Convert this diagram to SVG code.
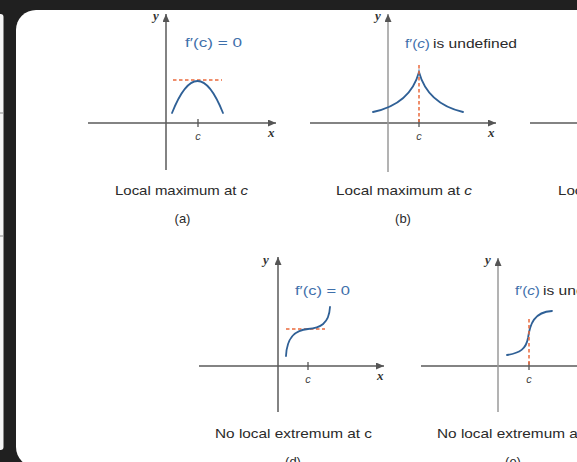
<svg xmlns="http://www.w3.org/2000/svg" width="577" height="462" viewBox="0 0 577 462">
<defs>
<marker id="arr" markerUnits="userSpaceOnUse" markerWidth="9" markerHeight="7" refX="8" refY="3.5" orient="auto">
<path d="M0,0 L8,3.5 L0,7 z" fill="#555"/>
</marker>
<style>
.ax{stroke:#5a5a5a;stroke-width:1.5;fill:none}
.axl{stroke:#9a9a9a;stroke-width:1.5;fill:none}
.tk{stroke:#555;stroke-width:1.3}
.cv{stroke:#2f6096;stroke-width:1.8;fill:none;stroke-linecap:round}
.ds{stroke:#ea6a3c;stroke-width:1.5;stroke-dasharray:3.5 2.5;fill:none}
.lab{font-family:"Liberation Serif",serif;font-style:italic;font-weight:bold;font-size:13px;fill:#333}
.cl{font-family:"Liberation Sans",sans-serif;font-style:italic;font-size:11px;fill:#444;text-anchor:middle}
.bl{font-family:"Liberation Sans",sans-serif;font-size:12.5px;fill:#3f70ab}
.bk{font-family:"Liberation Sans",sans-serif;font-size:12.5px;fill:#2a2a2a}
.cap{font-family:"Liberation Sans",sans-serif;font-size:13px;fill:#2a2a2a}
.sub{font-family:"Liberation Sans",sans-serif;font-size:13px;fill:#2a2a2a;text-anchor:middle}
</style>
</defs>
<rect x="0" y="0" width="577" height="462" fill="#202020"/>
<g id="left-neighbor">
<rect x="-60" y="14" width="63.5" height="436" rx="3" fill="#f4f4f4"/>
<line x1="0" y1="113" x2="3" y2="113" stroke="#888" stroke-width="1"/>
<line x1="0" y1="236" x2="3" y2="236" stroke="#888" stroke-width="1"/>
</g>
<rect id="panel" x="16" y="10" width="580" height="457" rx="20" fill="#ffffff"/>

<g id="plot-a">
<line class="ax" x1="88" y1="123" x2="276" y2="123" marker-end="url(#arr)"/>
<line class="ax" x1="166" y1="170" x2="166" y2="14" marker-end="url(#arr)"/>
<line class="tk" x1="198" y1="119" x2="198" y2="127"/>
<text class="lab" x="153" y="20">y</text>
<text class="lab" x="268" y="137">x</text>
<text class="cl" x="198" y="140">c</text>
<path class="ds" d="M173,80 H222"/>
<path class="cv" d="M172,113 Q197.5,49 223,113"/>
<text class="bl" x="185" y="47" textLength="57" lengthAdjust="spacingAndGlyphs">f′(c) = 0</text>
<text class="cap" x="115" y="195" textLength="133" lengthAdjust="spacingAndGlyphs">Local maximum at <tspan font-style="italic">c</tspan></text>
<text class="sub" x="182.5" y="223">(a)</text>
</g>

<g id="plot-b">
<line class="ax" x1="310" y1="123" x2="496" y2="123" marker-end="url(#arr)"/>
<line class="axl" x1="388" y1="172" x2="388" y2="14" marker-end="url(#arr)"/>
<line class="tk" x1="419" y1="119" x2="419" y2="127"/>
<text class="lab" x="375" y="20">y</text>
<text class="lab" x="488" y="137">x</text>
<text class="cl" x="419" y="140">c</text>
<path class="cv" d="M373,112 C392,108 412,98 419,72 C426,98 446,108 463,112"/>
<path class="ds" d="M419,65 V122"/>
<text class="bl" x="405" y="48" textLength="25" lengthAdjust="spacingAndGlyphs">f′(<tspan font-style="italic">c</tspan>)</text>
<text class="bk" x="433" y="48" textLength="84" lengthAdjust="spacingAndGlyphs">is undefined</text>
<text class="cap" x="336" y="195" textLength="136" lengthAdjust="spacingAndGlyphs">Local maximum at <tspan font-style="italic">c</tspan></text>
<text class="sub" x="403" y="223">(b)</text>
</g>

<g id="plot-c">
<line class="ax" x1="530" y1="123" x2="600" y2="123"/>
<text class="cap" x="558" y="195" textLength="130" lengthAdjust="spacingAndGlyphs">Local minimum at <tspan font-style="italic">c</tspan></text>
</g>

<g id="plot-d">
<line class="ax" x1="199" y1="366" x2="384" y2="366" marker-end="url(#arr)"/>
<line class="ax" x1="278" y1="412" x2="278" y2="257" marker-end="url(#arr)"/>
<line class="tk" x1="308" y1="362" x2="308" y2="370"/>
<text class="lab" x="263" y="264">y</text>
<text class="lab" x="377" y="380">x</text>
<text class="cl" x="308" y="383">c</text>
<path class="ds" d="M286,329 H325"/>
<path class="cv" d="M286,356 C287,336 296,330 308,329 C320,328 329,324 330,307"/>
<text class="bl" x="295" y="295" textLength="55" lengthAdjust="spacingAndGlyphs">f′(c) = 0</text>
<text class="cap" x="215" y="438" textLength="157" lengthAdjust="spacingAndGlyphs">No local extremum at c</text>
<text class="sub" x="293" y="466">(d)</text>
</g>

<g id="plot-e">
<line class="ax" x1="421" y1="366" x2="600" y2="366"/>
<line class="axl" x1="498" y1="412" x2="498" y2="258" marker-end="url(#arr)"/>
<line class="tk" x1="529" y1="362" x2="529" y2="370"/>
<text class="lab" x="485" y="264">y</text>
<text class="cl" x="529" y="383">c</text>
<path class="cv" d="M507,355 C520,353 526,349 528,338 C530,324 534,312 552,311"/>
<path class="ds" d="M529,319 V366"/>
<text class="bl" x="515" y="295" textLength="25" lengthAdjust="spacingAndGlyphs">f′(<tspan font-style="italic">c</tspan>)</text>
<text class="bk" x="543" y="295" textLength="84" lengthAdjust="spacingAndGlyphs">is undefined</text>
<text class="cap" x="437" y="438" textLength="157" lengthAdjust="spacingAndGlyphs">No local extremum at <tspan font-style="italic">c</tspan></text>
<text class="sub" x="513" y="466">(e)</text>
</g>
</svg>
